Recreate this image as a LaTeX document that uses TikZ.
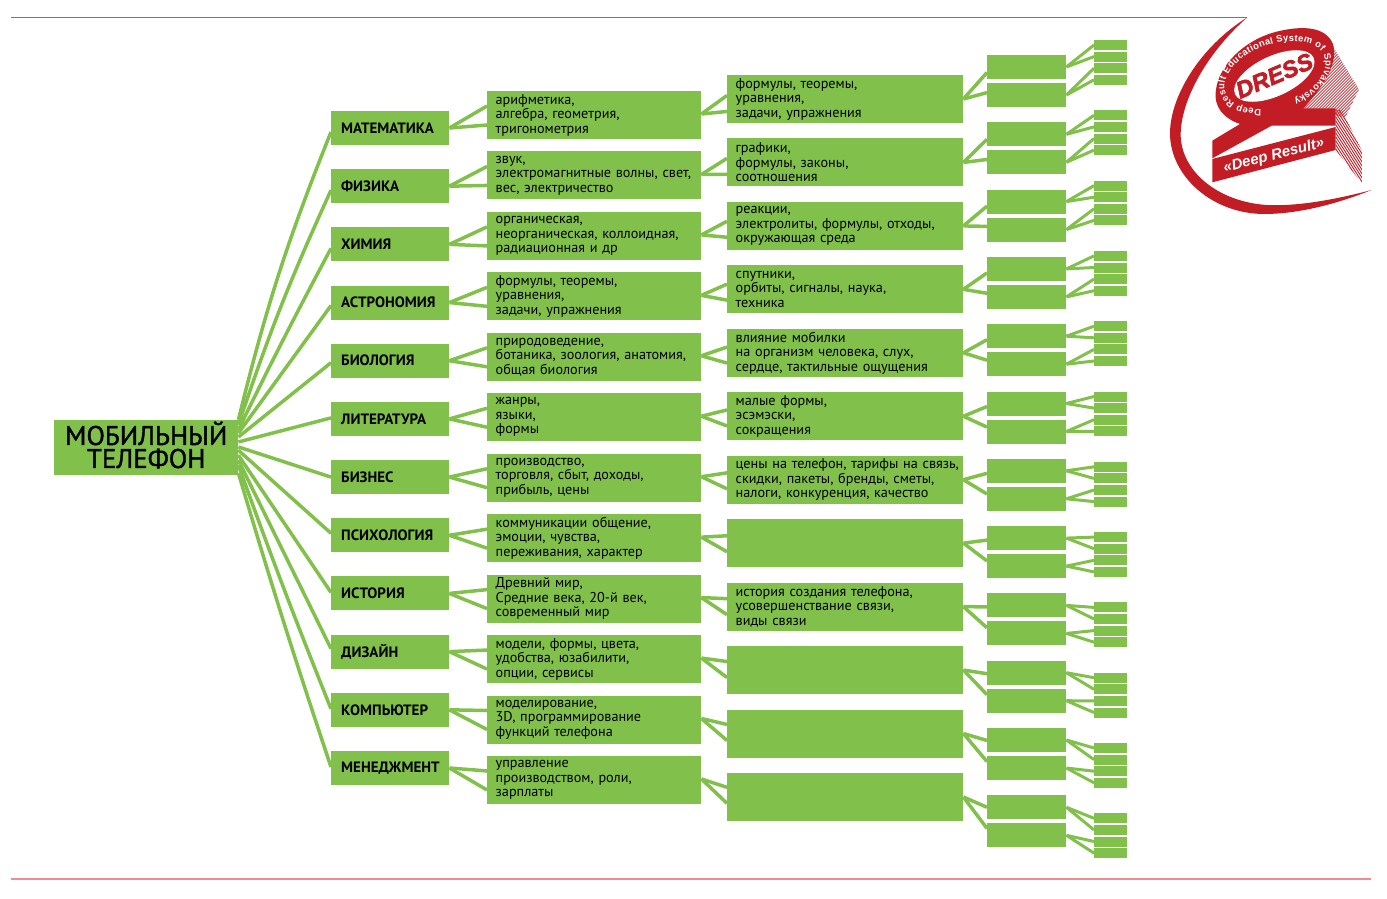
\documentclass[tikz,border=0pt]{standalone}
\usepackage{xcolor}
\usepackage{fontspec}
\setmainfont{PT Sans}
\newfontfamily\rootfont[FakeBold=1.4]{PT Sans}
\newfontfamily\topicfont[WordSpace=0.64]{PT Sans}
\newfontfamily\logofont{Liberation Sans}
\newfontfamily\dressfont[FakeBold=2.5]{Liberation Sans}
\usepackage{tikz}
\usetikzlibrary{calc,decorations.text}
\definecolor{leaf}{HTML}{81C14B}
\definecolor{logored}{HTML}{C21C24}
\definecolor{ruletop}{HTML}{DC4A50}
\definecolor{rulebot}{HTML}{EE8E94}

\begin{document}
\begin{tikzpicture}[x=1pt,y=-1pt,
    box/.style={fill=leaf,inner sep=0pt,anchor=west},
    rootbox/.style={box,text width=184pt,minimum height=55pt,align=center,font=\rootfont\fontsize{27}{23}\selectfont},
    subject/.style={box,minimum width=118pt,minimum height=34pt,inner xsep=10pt,text width=98pt,align=left,font=\fontsize{15}{15}\selectfont\bfseries},
    topic/.style={box,minimum height=48pt,align=left,font=\topicfont\fontsize{14.2}{14.5}\selectfont,execute at begin node={\setlength{\leftskip}{8.5pt}}},
    link/.style={draw=leaf,line width=3.5pt},
    twig/.style={draw=leaf,line width=3pt}]
  \useasboundingbox (0,0) rectangle (1387,898);
  \draw[ruletop,line width=1pt] (11,17.3) -- (1247,17.3);
  \draw[rulebot,line width=1.2pt] (11,879) -- (1371,879);
  \node[rootbox] (root) at (54,447.5) {МОБИЛЬНЫЙ\\ТЕЛЕФОН\par\nointerlineskip\rule{0pt}{5pt}};
  \foreach \i/\subj/\first/\second/\frc/\off/\bnd in {
      1/МАТЕМАТИКА/{арифметика,\\алгебра, геометрия,\\тригонометрия}/{формулы, теоремы,\\уравнения,\\задачи, упражнения}/0/4/4,
      2/ФИЗИКА/{звук,\\электромагнитные волны, свет,\\вес, электричество}/{графики,\\формулы, законы,\\соотношения}/.09/4/3,
      3/ХИМИЯ/{органическая,\\неорганическая, коллоидная,\\радиационная и др}/{реакции,\\электролиты, формулы, отходы,\\окружающая среда}/.18/4/1,
      4/АСТРОНОМИЯ/{формулы, теоремы,\\уравнения,\\задачи, упражнения}/{спутники,\\орбиты, сигналы, наука,\\техника}/.24/3/0,
      5/БИОЛОГИЯ/{природоведение,\\ботаника, зоология, анатомия,\\общая биология}/{влияние мобилки\\на организм человека, слух,\\сердце, тактильные ощущения}/.31/2/0,
      6/ЛИТЕРАТУРА/{жанры,\\языки,\\формы}/{малые формы,\\эсэмэски,\\сокращения}/.40/-1/0,
      7/БИЗНЕС/{производство,\\торговля, сбыт, доходы,\\прибыль, цены}/{цены на телефон, тарифы на связь,\\скидки, пакеты, бренды, сметы,\\налоги, конкуренция, качество}/.49/0/0,
      8/ПСИХОЛОГИЯ/{коммуникации общение,\\эмоции, чувства,\\переживания, характер}/{}/.55/-2/0,
      9/ИСТОРИЯ/{Древний мир,\\Средние века, 20-й век,\\современный мир}/{история создания телефона,\\усовершенствание связи,\\виды связи}/.64/-1/0,
      10/ДИЗАЙН/{модели, формы, цвета,\\удобства, юзабилити,\\опции, сервисы}/{}/.73/-3/0,
      11/КОМПЬЮТЕР/{моделирование,\\3D, программирование\\функций телефона}/{}/.82/-1/-1,
      12/МЕНЕДЖМЕНТ/{управление\\производством, роли,\\зарплаты}/{}/.96/-1/-1}{
    \pgfmathsetmacro{\ya}{128+58.18*(\i-1)}
    \pgfmathsetmacro{\yb}{115+60.45*(\i-1)}
    \pgfmathsetmacro{\yc}{99+63.45*(\i-1)}
    \pgfmathsetmacro{\yd}{67+67.3*(\i-1)}
    \pgfmathsetmacro{\ye}{45+70.3*(\i-1)}
    \node[subject] (subj\i) at (331,\ya) {\subj};
    \node[topic,text width=214pt] (topic\i) at (487,\yb) {\first};
    \node[topic,text width=236pt] (area\i) at (727,\yc) {\second};
    \node[box,minimum width=79pt,minimum height=24pt] (parta\i) at (987,\yd) {};
    \node[box,minimum width=79pt,minimum height=24pt] (partb\i) at (987,\yd+28) {};
    \foreach \j in {1,...,4}
      \node[box,minimum width=33pt,minimum height=10pt] (tip\i-\j) at (1094,\ye+11.6*\j-11.6) {};
    \draw[link] ($(root.north east)!\frc!(root.south east)$) to[bend left=\bnd] ($(subj\i.west)+(0,\off)$);
    \draw[link] (subj\i.east) -- ($(topic\i.west)+(0,-9)$);
    \draw[link] (subj\i.east) -- ($(topic\i.west)+(0,10)$);
    \draw[link] ($(topic\i.east)+(0,-1)$) -- ($(area\i.west)+(0,-3-.55*\i)$);
    \draw[link] ($(topic\i.east)+(0,-1)$) -- ($(area\i.west)+(0,13-.55*\i)$);
    \draw[link] (area\i.east) -- ($(parta\i.west)+(0,6-.5*\i)$);
    \draw[link] (area\i.east) -- ($(partb\i.west)+(0,-2-.4*\i)$);
    \draw[twig] (parta\i.east) -- (tip\i-1.west);
    \draw[twig] (parta\i.east) -- (tip\i-2.west);
    \draw[twig] (partb\i.east) -- (tip\i-3.west);
    \draw[twig] (partb\i.east) -- (tip\i-4.west);
  }
  \begin{scope}[shift={(1160,10)},x=.3333pt,y=-.3333pt]
    \fill[logored] (262,22) .. controls (120,110) and (30,260) .. (30,370) .. controls (30,500) and (160,615) .. (320,612) .. controls (440,610) and (560,570) .. (635,540) .. controls (540,565) and (420,590) .. (320,585) .. controls (170,575) and (60,480) .. (62,370) .. controls (65,260) and (150,120) .. (262,22) -- cycle;
    \begin{scope}
      \clip (525,120) -- (597,238) -- (556,322) -- (430,295) -- cycle;
      \foreach \k in {-200,-191,...,100}
        \draw[logored,line width=.8pt] (420+\k,400) -- (720+\k,100);
    \end{scope}
    \begin{scope}
      \clip (527,300) -- (545,300) -- (607,425) -- (607,522) -- (527,420) -- cycle;
      \foreach \k in {-40,-28,...,130}
        \draw[logored,line width=.9pt] (527,300+\k) -- (607,425+\k);
    \end{scope}
    \fill[logored] (157,392) -- (240,342) .. controls (190,325) and (160,290) .. (168,240) .. controls (175,170) and (250,90) .. (350,65) .. controls (430,45) and (500,50) .. (520,105) .. controls (535,170) and (480,240) .. (430,295) -- (527,295) -- (527,347) -- (335,347) -- (157,445) -- cycle;
    \fill[logored] (157,447) -- (527,351) -- (527,420) -- (157,517) -- cycle;
    \fill[white,rotate around={25:(343,198)}] (343,198) ellipse [x radius=130,y radius=60];
    \node[logored,rotate=23,font=\dressfont\bfseries\itshape\fontsize{23.5}{24}\selectfont] (dress) at (343,197) {DRESS};
    \node[white,rotate=14.5,font=\logofont\bfseries\itshape\fontsize{15}{16}\selectfont] (deep) at (342,438) {«Deep Result»};
    \path[decorate,decoration={text along path,text align={fit to path},
        text={|\logofont\bfseries\fontsize{9.4}{10}\selectfont\color{white}|Deep Result Educational System of Spivakovsky}}]
      plot[domain=118:440,samples=90,variable=\t]
      ({345+158*cos(\t)*cos(20)+92*sin(\t)*sin(20)},{195-158*cos(\t)*sin(20)+92*sin(\t)*cos(20)});
  \end{scope}
\end{tikzpicture}
\end{document}
